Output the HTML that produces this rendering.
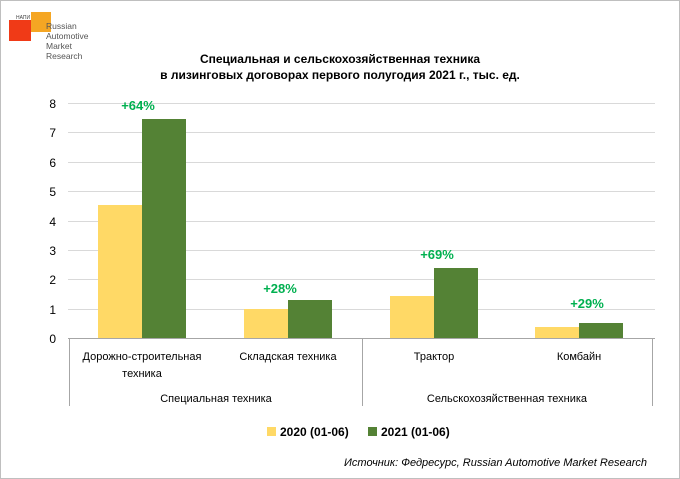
<!DOCTYPE html>
<html><head><meta charset="utf-8"><style>
body{margin:0;background:#fff}
svg{display:block;font-family:"Liberation Sans",sans-serif}
</style></head><body>
<svg width="680" height="479" viewBox="0 0 680 479">
<rect x="0.5" y="0.5" width="679" height="478" fill="#fff" stroke="#bfbfbf"/>
<rect x="9" y="20" width="22" height="21" fill="#f03a17"/>
<rect x="31" y="12" width="20" height="20" fill="#f5a623"/>
<text x="16" y="19" font-size="5" fill="#444">НАПИ</text>
<g font-size="8.5" fill="#555" font-family="Liberation Sans Narrow,Liberation Sans,sans-serif">
<text x="46" y="29">Russian</text><text x="46" y="39">Automotive</text><text x="46" y="49">Market</text><text x="46" y="59">Research</text></g>
<text x="340" y="63" font-size="12" font-weight="bold" text-anchor="middle" fill="#000">Специальная и сельскохозяйственная техника</text>
<text x="340" y="79" font-size="12" font-weight="bold" text-anchor="middle" fill="#000">в лизинговых договорах первого полугодия 2021 г., тыс. ед.</text>
<g stroke="#d9d9d9" stroke-width="1">
<line x1="68" x2="655" y1="103.5" y2="103.5"/><line x1="68" x2="655" y1="132.5" y2="132.5"/>
<line x1="68" x2="655" y1="162.5" y2="162.5"/><line x1="68" x2="655" y1="191.5" y2="191.5"/>
<line x1="68" x2="655" y1="221.5" y2="221.5"/><line x1="68" x2="655" y1="250.5" y2="250.5"/>
<line x1="68" x2="655" y1="279.5" y2="279.5"/><line x1="68" x2="655" y1="309.5" y2="309.5"/>
</g>
<g font-size="12" fill="#000" text-anchor="end">
<text x="56" y="108">8</text><text x="56" y="137">7</text><text x="56" y="167">6</text><text x="56" y="196">5</text>
<text x="56" y="226">4</text><text x="56" y="255">3</text><text x="56" y="284">2</text><text x="56" y="314">1</text><text x="56" y="343">0</text></g>
<g fill="#ffd966">
<rect x="98" y="205" width="44" height="133"/><rect x="244" y="309" width="44" height="29"/>
<rect x="390" y="296" width="44" height="42"/><rect x="535" y="327" width="44" height="11"/></g>
<g fill="#548235">
<rect x="142" y="119" width="44" height="219"/><rect x="288" y="300" width="44" height="38"/>
<rect x="434" y="268" width="44" height="70"/><rect x="579" y="323" width="44" height="15"/></g>
<g font-size="13" font-weight="bold" fill="#00b050" text-anchor="middle">
<text x="138" y="110">+64%</text><text x="280" y="293">+28%</text><text x="437" y="259">+69%</text><text x="587" y="308">+29%</text></g>
<g stroke="#a6a6a6" stroke-width="1">
<line x1="68" x2="655" y1="338.5" y2="338.5"/>
<line x1="69.5" x2="69.5" y1="338" y2="406"/><line x1="362.5" x2="362.5" y1="338" y2="406"/><line x1="652.5" x2="652.5" y1="338" y2="406"/></g>
<g font-size="11" fill="#000" text-anchor="middle">
<text x="142" y="360">Дорожно-строительная</text><text x="142" y="377">техника</text>
<text x="288" y="360">Складская техника</text><text x="434" y="360">Трактор</text><text x="579" y="360">Комбайн</text>
<text x="216" y="402">Специальная техника</text><text x="507" y="402">Сельскохозяйственная техника</text></g>
<rect x="267" y="427" width="9" height="9" fill="#ffd966"/>
<text x="280" y="436" font-size="12" font-weight="bold">2020 (01-06)</text>
<rect x="368" y="427" width="9" height="9" fill="#548235"/>
<text x="381" y="436" font-size="12" font-weight="bold">2021 (01-06)</text>
<text x="647" y="466" font-size="11" font-style="italic" text-anchor="end">Источник: Федресурс, Russian Automotive Market Research</text>
</svg>
</body></html>
